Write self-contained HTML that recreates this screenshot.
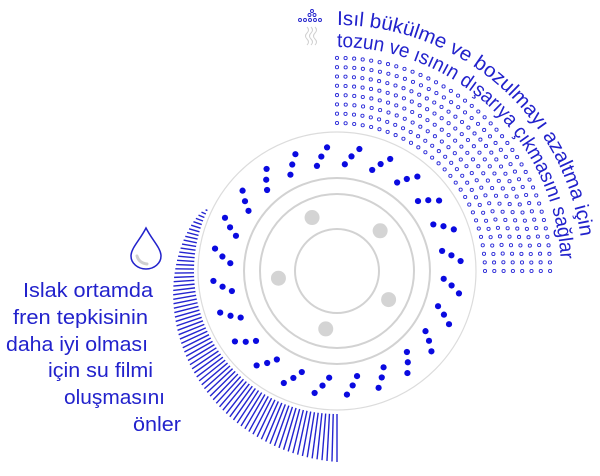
<!DOCTYPE html>
<html><head><meta charset="utf-8"><style>
html,body{margin:0;padding:0;background:#fff;}
svg{display:block;}
text{font-family:"Liberation Sans",sans-serif;fill:#2222cc;}
</style></head><body>
<svg id="s" width="600" height="476" viewBox="0 0 600 476" xmlns="http://www.w3.org/2000/svg">
<defs>
<path id="a1" d="M 337 25 A 246 246 0 0 1 583 271"/>
<path id="a2" d="M 337 47 A 224 224 0 0 1 561 271"/>
</defs>
<g id="field"></g>
<circle cx="337" cy="271" r="139" fill="none" stroke="#dcdcdc" stroke-width="1.2"/>
<circle cx="337" cy="271" r="93" fill="none" stroke="#d2d2d2" stroke-width="2"/>
<circle cx="337" cy="271" r="77" fill="none" stroke="#d2d2d2" stroke-width="2"/>
<circle cx="337" cy="271" r="42" fill="none" stroke="#d2d2d2" stroke-width="2"/>
<g id="bolts" fill="#d4d4d4"></g>
<g id="dots" fill="#0a0ae0"></g>
<g id="hatch" stroke="#2424d0" stroke-width="1.4"></g>
<text font-size="20"><textPath href="#a1" textLength="352" lengthAdjust="spacingAndGlyphs">Isıl bükülme ve bozulmayı azaltma için</textPath></text>
<text font-size="20"><textPath href="#a2" textLength="340" lengthAdjust="spacingAndGlyphs">tozun ve ısının dışarıya çıkmasını sağlar</textPath></text>
<g font-size="20">
<text x="23" y="297" textLength="130" lengthAdjust="spacingAndGlyphs">Islak ortamda</text>
<text x="13" y="324" textLength="135" lengthAdjust="spacingAndGlyphs">fren tepkisinin</text>
<text x="6" y="351" textLength="142" lengthAdjust="spacingAndGlyphs">daha iyi olması</text>
<text x="48" y="377" textLength="105" lengthAdjust="spacingAndGlyphs">için su filmi</text>
<text x="64" y="404" textLength="101" lengthAdjust="spacingAndGlyphs">oluşmasını</text>
<text x="133" y="431" textLength="48" lengthAdjust="spacingAndGlyphs">önler</text>
</g>
<!-- drop -->
<path d="M146 228 C 140 240 131 248 131 256 A 15 13 0 0 0 161 256 C 161 248 152 240 146 228 Z" fill="none" stroke="#2222cc" stroke-width="1.5"/>
<path d="M137 256 Q 139 263 147 264" fill="none" stroke="#cfcfcf" stroke-width="3" stroke-linecap="round"/>
<!-- steam icon -->
<g fill="none" stroke="#2222cc" stroke-width="0.9">
<circle cx="312" cy="11" r="1.5"/>
<circle cx="309.5" cy="15" r="1.5"/><circle cx="314.5" cy="15" r="1.5"/>
<circle cx="300" cy="20" r="1.5"/><circle cx="305" cy="20" r="1.5"/><circle cx="310" cy="20" r="1.5"/><circle cx="315" cy="20" r="1.5"/><circle cx="320" cy="20" r="1.5"/>
</g>
<g fill="none" stroke="#cfcfcf" stroke-width="1">
<path d="M307 27 q3 3 0 6 q-3 3 0 6 q3 3 0 6"/>
<path d="M311 27 q3 3 0 6 q-3 3 0 6 q3 3 0 6"/>
<path d="M315 27 q3 3 0 6 q-3 3 0 6 q3 3 0 6"/>
</g>
</svg>
<script>
var NS="http://www.w3.org/2000/svg",cx=337,cy=271;
function P(r,a){a=a*Math.PI/180;return [cx+r*Math.sin(a),cy-r*Math.cos(a)];}
function el(g,t,o){var e=document.createElementNS(NS,t);for(var k in o)e.setAttribute(k,o[k]);document.getElementById(g).appendChild(e);}
// bolts
for(var i=0;i<5;i++){var p=P(59,-25+72*i);el("bolts","circle",{cx:p[0],cy:p[1],r:7.5});}
// blue dots
for(var k=0;k<24;k++){var t=-4.6+15*k;[[124,0],[115.5,-3.2],[107,-6.2]].forEach(function(d){var p=P(d[0],t+d[1]);el("dots","circle",{cx:p[0],cy:p[1],r:3.1});});}
// hatch
for(var i=0;i<=76;i++){var f=i/76,a=-65-115*f,L=2+46*Math.pow(f,0.65);var p1=P(143,a),p2=P(143+L,a);el("hatch","line",{x1:p1[0],y1:p1[1],x2:p2[0],y2:p2[1]});}
// dot field
for(var r=0;r<8;r++){var R=148+r*9.3,n=Math.round(R*Math.PI/2/8.6);for(var j=0;j<=n;j++){var p=P(R,90*j/n);el("field","circle",{cx:p[0],cy:p[1],r:1.6,fill:"none",stroke:"#2a2ad8","stroke-width":0.9});}}
</script>
</body></html>
